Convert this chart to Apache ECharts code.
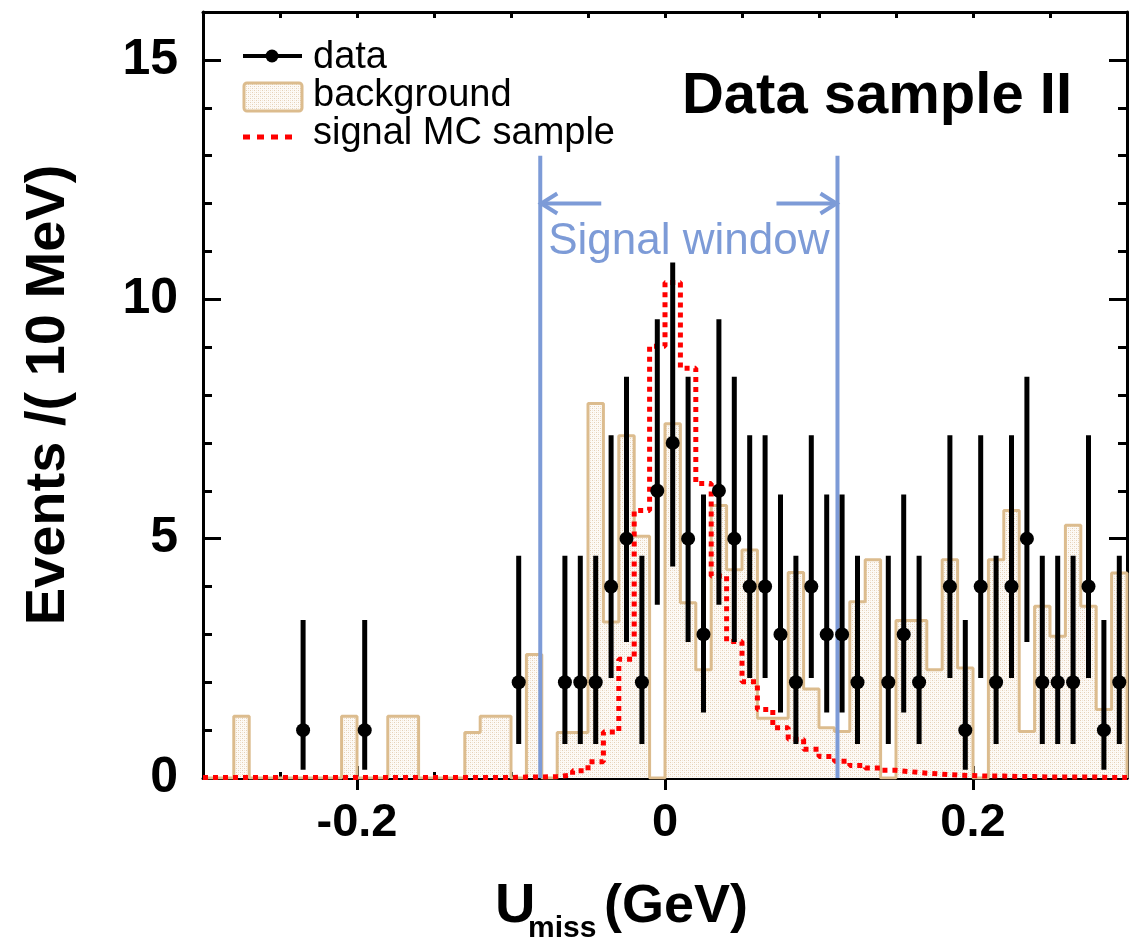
<!DOCTYPE html>
<html><head><meta charset="utf-8">
<script src="https://cdn.jsdelivr.net/npm/echarts@6/dist/echarts.min.js"></script>
<style>html,body{margin:0;padding:0;background:#fff}#c{width:1137px;height:943px}</style>
</head><body><div id="c"></div>
<script>
// ---- binning (10 MeV bins from -0.3 to 0.3 GeV) ----
const binStart = -0.3;
const binWidth = 0.01;

// background histogram, one value per bin (60 bins)
const background = [
  0, 0, 1.29, 0, 0, 0, 0, 0, 0, 1.29,
  0, 0, 1.29, 1.29, 0, 0, 0, 0.95, 1.29, 1.29,
  0, 2.58, 0, 0.95, 0.95, 7.82, 3.26, 7.15, 5.05, 0,
  7.40, 3.66, 2.26, 5.69, 4.35, 4.76, 1.25, 1.25, 4.29, 1.86,
  1.05, 0.97, 3.68, 4.56, 0, 3.29, 3.29, 2.26, 4.56, 2.30,
  0, 4.56, 5.59, 0.97, 3.59, 2.96, 5.28, 3.59, 1.43, 4.28
];

// signal MC histogram, one value per bin (60 bins)
const signalMC = [
  0.01, 0.01, 0.01, 0.01, 0.01, 0.01, 0.01, 0.01, 0.01, 0.01,
  0.01, 0.01, 0.01, 0.01, 0.01, 0.01, 0.01, 0.01, 0.01, 0.01,
  0.02, 0.02, 0.03, 0.06, 0.15, 0.34, 0.96, 2.48, 5.59, 9.02,
  10.35, 8.56, 6.15, 4.22, 2.85, 2.01, 1.43, 1.05, 0.81, 0.60,
  0.45, 0.35, 0.26, 0.21, 0.16, 0.13, 0.10, 0.08, 0.06, 0.05,
  0.04, 0.04, 0.03, 0.03, 0.02, 0.02, 0.02, 0.02, 0.01, 0.01
];

// data points (bin centres, counts, asymmetric error-bar ends)
const dataX = [-0.235, -0.195, -0.095, -0.065, -0.055, -0.045, -0.035, -0.025, -0.015, -0.005,
  0.005, 0.015, 0.025, 0.035, 0.045, 0.055, 0.065, 0.075, 0.085, 0.095,
  0.105, 0.115, 0.125, 0.145, 0.155, 0.165, 0.185, 0.195, 0.205, 0.215,
  0.225, 0.235, 0.245, 0.255, 0.265, 0.275, 0.285, 0.295];
const dataY = [1, 1, 2, 2, 2, 2, 4, 5, 2, 6,
  7, 5, 3, 6, 5, 4, 4, 3, 2, 4,
  3, 3, 2, 2, 3, 2, 4, 1, 4, 2,
  4, 5, 2, 2, 2, 4, 1, 2];
const dataErrLow = [0.17, 0.17, 0.71, 0.71, 0.71, 0.71, 2.09, 2.84, 0.71, 3.62,
  4.42, 2.84, 1.37, 3.62, 2.84, 2.09, 2.09, 1.37, 0.71, 2.09,
  1.37, 1.37, 0.71, 0.71, 1.37, 0.71, 2.09, 0.17, 2.09, 0.71,
  2.09, 2.84, 0.71, 0.71, 0.71, 2.09, 0.17, 0.71];
const dataErrHigh = [3.30, 3.30, 4.64, 4.64, 4.64, 4.64, 7.16, 8.38, 4.64, 9.58,
  10.77, 8.38, 5.92, 9.58, 8.38, 7.16, 7.16, 5.92, 4.64, 7.16,
  5.92, 5.92, 4.64, 4.64, 5.92, 4.64, 7.16, 3.30, 7.16, 4.64,
  7.16, 8.38, 4.64, 4.64, 4.64, 7.16, 3.30, 4.64];

// tick labels
const xTickLabels = [-0.2, 0, 0.2];
const yTickLabels = [0, 5, 10, 15];

// signal window bounds (GeV)
const signalWindow = [-0.081, 0.112];

// ---- helpers ----
function stepPoints(vals) {
  const pts = [];
  for (let i = 0; i < vals.length; i++) pts.push([+(binStart + i * binWidth).toFixed(4), vals[i]]);
  const end = +(binStart + vals.length * binWidth).toFixed(4);
  pts.push([end, vals[vals.length - 1]]);
  pts.push([end, 0]);
  return pts;
}

const FONT = '"Liberation Sans", Arial, Helvetica, sans-serif';
const BLUE = '#7d9bd7';
const TAN = '#dcbc8e';

const pc = document.createElement('canvas');
pc.width = 4; pc.height = 4;
const g = pc.getContext('2d');
g.fillStyle = '#fdfaf6'; g.fillRect(0, 0, 4, 4);
g.fillStyle = '#e5d0b6'; g.fillRect(0, 0, 1, 1); g.fillRect(2, 2, 1, 1);
g.fillStyle = '#f1e6d9'; g.fillRect(2, 0, 1, 1); g.fillRect(0, 2, 1, 1);
const hatch = { image: pc, repeat: 'repeat' };

const chart = echarts.init(document.getElementById('c'), null, { renderer: 'canvas' });

const axisLineStyle = { color: '#000', width: 3 };
const xBase = {
  type: 'value', min: -0.3, max: 0.3, interval: 0.05,
  axisLine: { show: true, onZero: false, lineStyle: axisLineStyle },
  axisTick: { show: true, inside: true, length: 6, lineStyle: { color: '#000', width: 3 } },
  splitLine: { show: false }
};
const yBase = {
  type: 'value', min: 0, max: 16, interval: 5,
  axisLine: { show: true, onZero: false, lineStyle: axisLineStyle },
  axisTick: { show: true, inside: true, length: 18, lineStyle: { color: '#000', width: 3 } },
  minorTick: { show: true, splitNumber: 5, length: 9, lineStyle: { color: '#000', width: 3 } },
  splitLine: { show: false }
};

const option = {
  animation: false,
  backgroundColor: '#fff',
  grid: { left: 203, top: 12, width: 924, height: 766, containLabel: false },
  xAxis: [
    Object.assign({}, xBase, {
      position: 'bottom',
      axisLabel: {
        show: true, customValues: xTickLabels, margin: 22,
        fontFamily: FONT, fontWeight: 'bold', fontSize: 47, color: '#000',
        formatter: v => (xTickLabels.some(t => Math.abs(t - v) < 1e-6) ? String(Math.abs(v) < 1e-9 ? 0 : +v.toFixed(2)) : '')
      }
    }),
    Object.assign({}, xBase, { position: 'top', axisLabel: { show: false } }),
    Object.assign({}, xBase, {
      position: 'bottom', interval: 0.1,
      axisLine: { show: false },
      axisTick: { show: true, inside: true, length: 12, customValues: xTickLabels, lineStyle: { color: '#000', width: 3 } },
      axisLabel: { show: false }
    }),
    Object.assign({}, xBase, {
      position: 'top', interval: 0.1,
      axisLine: { show: false },
      axisTick: { show: true, inside: true, length: 12, customValues: xTickLabels, lineStyle: { color: '#000', width: 3 } },
      axisLabel: { show: false }
    })
  ],
  yAxis: [
    Object.assign({}, yBase, {
      position: 'left',
      name: 'Events /( 10 MeV)', nameLocation: 'middle', nameGap: 126, nameRotate: 90,
      nameTextStyle: { fontFamily: FONT, fontWeight: 'bold', fontSize: 56, color: '#000' },
      axisLabel: {
        show: true, margin: 25, fontFamily: FONT, fontWeight: 'bold', fontSize: 50, color: '#000',
        formatter: v => (yTickLabels.indexOf(v) >= 0 ? String(v) : '')
      }
    }),
    Object.assign({}, yBase, { position: 'right', axisLabel: { show: false } })
  ],
  series: [
    {
      name: 'background', type: 'line', step: 'end', z: 2,
      data: stepPoints(background),
      symbol: 'none',
      lineStyle: { color: TAN, width: 3 },
      areaStyle: { color: hatch, opacity: 1 }
    },
    {
      name: 'signal MC sample', type: 'line', step: 'end', z: 3,
      data: stepPoints(signalMC),
      symbol: 'none',
      lineStyle: { color: '#ff0000', width: 5, type: [5, 5], cap: 'butt' }
    },
    {
      name: 'window', type: 'custom', z: 4,
      data: [[signalWindow[0], signalWindow[1]]],
      encode: { x: [0, 1] },
      renderItem: function (params, api) {
        const xl = api.value(0), xr = api.value(1);
        const b0 = api.coord([xl, 0]), t0 = api.coord([xl, 13.0]);
        const b1 = api.coord([xr, 0]), t1 = api.coord([xr, 13.0]);
        const aY = api.coord([xl, 12])[1];
        const st = { stroke: BLUE, lineWidth: 4, fill: null };
        const shaft = 61, hw = 17, hh = 10;
        return {
          type: 'group', children: [
            { type: 'line', shape: { x1: b0[0], y1: b0[1], x2: t0[0], y2: t0[1] }, style: st },
            { type: 'line', shape: { x1: b1[0], y1: b1[1], x2: t1[0], y2: t1[1] }, style: st },
            { type: 'line', shape: { x1: b0[0], y1: aY, x2: b0[0] + shaft, y2: aY }, style: st },
            { type: 'line', shape: { x1: b1[0] - shaft, y1: aY, x2: b1[0], y2: aY }, style: st },
            { type: 'polyline', shape: { points: [[b0[0] + hw, aY - hh], [b0[0] + 1, aY], [b0[0] + hw, aY + hh]] }, style: st },
            { type: 'polyline', shape: { points: [[b1[0] - hw, aY - hh], [b1[0] - 1, aY], [b1[0] - hw, aY + hh]] }, style: st },
            { type: 'text', x: (b0[0] + b1[0]) / 2, y: aY + 38,
              style: { text: 'Signal window', fontFamily: FONT, fontSize: 44, fill: BLUE, align: 'center', verticalAlign: 'middle' } }
          ]
        };
      }
    },
    {
      name: 'data', type: 'custom', z: 10,
      data: dataX.map((x, i) => [x, dataY[i], dataErrLow[i], dataErrHigh[i]]),
      encode: { x: 0, y: [1, 2, 3] },
      renderItem: function (params, api) {
        const x = api.value(0);
        const p = api.coord([x, api.value(1)]);
        const lo = api.coord([x, api.value(2)]);
        const hi = api.coord([x, api.value(3)]);
        return {
          type: 'group', children: [
            { type: 'line', shape: { x1: lo[0], y1: lo[1], x2: hi[0], y2: hi[1] }, style: { stroke: '#000', lineWidth: 5 } },
            { type: 'circle', shape: { cx: p[0], cy: p[1], r: 7 }, style: { fill: '#000' } }
          ]
        };
      }
    }
  ],
  graphic: [
    // legend
    { type: 'line', shape: { x1: 243, y1: 56, x2: 302, y2: 56 }, style: { stroke: '#000', lineWidth: 4 } },
    { type: 'circle', shape: { cx: 272, cy: 56, r: 6.5 }, style: { fill: '#000' } },
    { type: 'text', x: 313, y: 58, style: { text: 'data', fontFamily: FONT, fontSize: 38, fill: '#000', align: 'left', verticalAlign: 'middle' } },
    { type: 'rect', shape: { x: 244, y: 83, width: 58, height: 28, r: 3 }, style: { fill: hatch, stroke: TAN, lineWidth: 3 } },
    { type: 'text', x: 313, y: 96, style: { text: 'background', fontFamily: FONT, fontSize: 38, fill: '#000', align: 'left', verticalAlign: 'middle' } },
    { type: 'line', shape: { x1: 243, y1: 137, x2: 299, y2: 137 }, style: { stroke: '#ff0000', lineWidth: 5, lineDash: [7, 7] } },
    { type: 'text', x: 313, y: 134, style: { text: 'signal MC sample', fontFamily: FONT, fontSize: 38, fill: '#000', align: 'left', verticalAlign: 'middle' } },
    // sample label
    { type: 'text', x: 1072, y: 97, style: { text: 'Data sample II', fontFamily: FONT, fontWeight: 'bold', fontSize: 58, fill: '#000', align: 'right', verticalAlign: 'middle' } },
    // x-axis title
    { type: 'text', x: 495, y: 907, style: { text: 'U', fontFamily: FONT, fontWeight: 'bold', fontSize: 56, fill: '#000', align: 'left', verticalAlign: 'middle' } },
    { type: 'text', x: 528, y: 929, style: { text: 'miss', fontFamily: FONT, fontWeight: 'bold', fontSize: 30, fill: '#000', align: 'left', verticalAlign: 'middle' } },
    { type: 'text', x: 604, y: 907, style: { text: '(GeV)', fontFamily: FONT, fontWeight: 'bold', fontSize: 54, fill: '#000', align: 'left', verticalAlign: 'middle' } }
  ]
};
chart.setOption(option);
</script>
</body></html>
